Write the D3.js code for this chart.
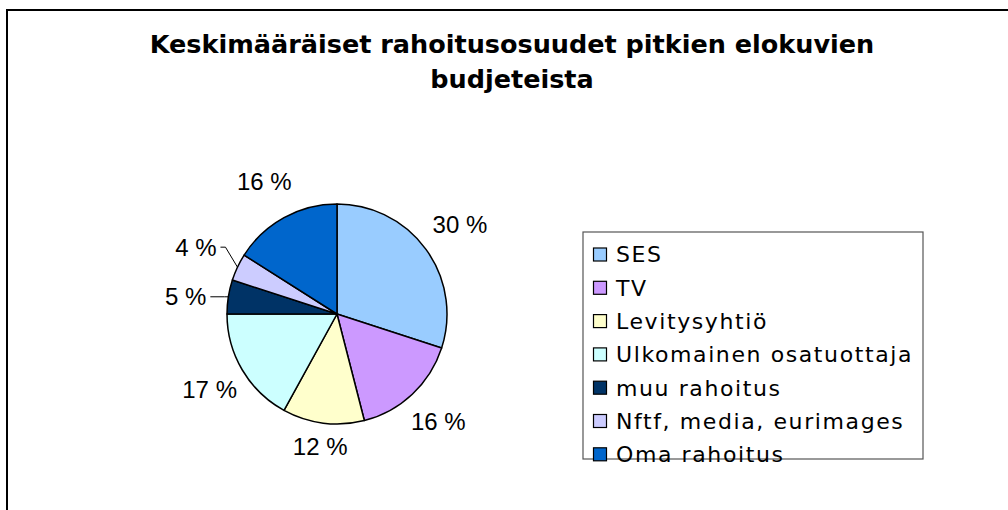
<!DOCTYPE html>
<html>
<head>
<meta charset="utf-8">
<script src="https://cdn.jsdelivr.net/npm/d3@7"></script>
<style>
    body { margin: 0; background: #fff; }
    svg { display: block; }
</style>
</head>
<body>
<div id="chart"></div>
<script>
// chart data
const categories = ["SES", "TV", "Levitysyhtiö", "Ulkomainen osatuottaja", "muu rahoitus", "Nftf, media, eurimages", "Oma rahoitus"];
const shares = [30, 16, 12, 17, 5, 4, 16];
const sliceColors = ["#99CCFF", "#CC99FF", "#FFFFCC", "#CCFFFF", "#003366", "#CCCCFF", "#0066CC"];
const titleLines = ["Keskimääräiset rahoitusosuudet pitkien elokuvien", "budjeteista"];

const width = 1008, height = 510;

const svg = d3.select("#chart").append("svg")
    .attr("width", width)
    .attr("height", height);

// outer frame (runs off the right/bottom edge like the original)
svg.append("rect")
    .attr("x", 7).attr("y", 10)
    .attr("width", 1010).attr("height", 520)
    .attr("fill", "#fff")
    .attr("stroke", "#000")
    .attr("stroke-width", 2);

// title
svg.append("g").selectAll("text")
    .data(titleLines)
    .enter().append("text")
    .attr("x", 512)
    .attr("y", (d, i) => 53 + i * 35)
    .attr("text-anchor", "middle")
    .style("font-family", "'DejaVu Sans', Verdana, sans-serif")
    .style("font-weight", "bold")
    .style("font-size", "25.5px")
    .text(d => d);

// pie
const cx = 337, cy = 314, r = 110;

const pie = d3.pie().sort(null).value(d => d);
const arcs = pie(shares);
const arc = d3.arc().innerRadius(0).outerRadius(r);

const g = svg.append("g").attr("transform", "translate(" + cx + "," + cy + ")");

g.selectAll("path")
    .data(arcs)
    .enter().append("path")
    .attr("d", arc)
    .attr("fill", (d, i) => sliceColors[i])
    .attr("stroke", "#000")
    .attr("stroke-width", 1.5)
    .attr("stroke-linejoin", "round");

// label distance from centre along the mid-angle; 0 = small slice with leader line
const labelRadius = [152, 148, 134, 148, 0, 0, 151];
// leader bends (relative to slice edge point) for the small slices
const leaderBend = {4: [-4, 0, -14], 5: [-12, -20, -5]};

const labels = g.selectAll(".lbl")
    .data(arcs)
    .enter().append("text")
    .attr("class", "lbl")
    .style("font-family", "'Liberation Sans', Arial, sans-serif")
    .style("font-size", "24px")
    .attr("dy", "0.35em")
    .text(d => d.data + " %");

labels.each(function (d, i) {
    const a = (d.startAngle + d.endAngle) / 2;
    let x, y, anchor = "middle";
    if (labelRadius[i] > 0) {
        x = Math.sin(a) * labelRadius[i];
        y = -Math.cos(a) * labelRadius[i];
    } else {
        const edgeX = Math.sin(a) * r, edgeY = -Math.cos(a) * r;
        const b = leaderBend[i];
        const bendX = edgeX + b[0], bendY = edgeY + b[1];
        const endX = bendX + b[2];
        x = endX - 4;
        y = bendY;
        anchor = "end";
        g.append("polyline")
            .attr("points", [[endX, bendY], [bendX, bendY], [edgeX, edgeY]].map(p => p.join(",")).join(" "))
            .attr("fill", "none")
            .attr("stroke", "#000")
            .attr("stroke-width", 1);
    }
    d3.select(this).attr("x", x).attr("y", y).attr("text-anchor", anchor);
});

// legend
const legend = svg.append("g").attr("transform", "translate(583,232)");

legend.append("rect")
    .attr("width", 340).attr("height", 227)
    .attr("fill", "#fff")
    .attr("stroke", "#555")
    .attr("stroke-width", 1.2);

const rowH = 33.3;
const items = legend.selectAll(".item")
    .data(categories)
    .enter().append("g")
    .attr("class", "item")
    .attr("transform", (d, i) => "translate(10," + (22.5 + i * rowH) + ")");

items.append("rect")
    .attr("x", 0.5).attr("y", -6.5)
    .attr("width", 13).attr("height", 13)
    .attr("fill", (d, i) => sliceColors[i])
    .attr("stroke", "#000")
    .attr("stroke-width", 1.2);

items.append("text")
    .attr("x", 23)
    .attr("dy", "0.36em")
    .style("font-family", "'DejaVu Sans', Verdana, sans-serif")
    .style("font-size", "22px")
    .style("letter-spacing", "1.6px")
    .text(d => d);
</script>
</body>
</html>
